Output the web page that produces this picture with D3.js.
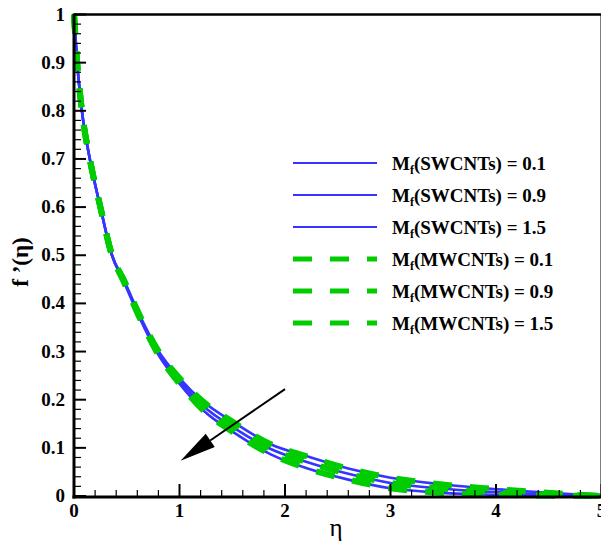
<!DOCTYPE html>
<html>
<head>
<meta charset="utf-8">
<script src="https://cdn.jsdelivr.net/npm/d3@7/dist/d3.min.js"></script>
<style>
body { margin: 0; background: #fff; }
svg { display: block; }
text { font-family: "Liberation Serif", "Times New Roman", Times, "DejaVu Serif", serif; }
</style>
</head>
<body>
<svg id="chart" width="601" height="547"></svg>
<script>
// values
var eta    = [0, 0.03, 0.075, 0.15, 0.25, 0.36, 0.47, 0.63, 0.79, 1.0, 1.23, 1.52, 1.87, 2.2, 2.6, 3.0, 3.45, 3.9, 4.4, 5.0];
var fSW01  = [1, 0.9, 0.8, 0.7, 0.6, 0.5, 0.45, 0.372, 0.305, 0.245, 0.195, 0.152, 0.107, 0.083, 0.057, 0.038, 0.025, 0.016, 0.008, 0];
var fSW09  = [1, 0.9, 0.8, 0.7, 0.6, 0.5, 0.448, 0.369, 0.301, 0.239, 0.186, 0.141, 0.097, 0.071, 0.046, 0.027, 0.016, 0.009, 0.004, 0];
var fSW15  = [1, 0.9, 0.8, 0.7, 0.6, 0.5, 0.446, 0.366, 0.297, 0.233, 0.177, 0.131, 0.086, 0.058, 0.034, 0.016, 0.007, 0.003, 0.001, 0];
var fMW01  = [1, 0.9, 0.8, 0.7, 0.6, 0.5, 0.45, 0.372, 0.305, 0.245, 0.195, 0.152, 0.107, 0.083, 0.057, 0.038, 0.025, 0.016, 0.008, 0];
var fMW09  = [1, 0.9, 0.8, 0.7, 0.6, 0.5, 0.448, 0.369, 0.301, 0.239, 0.186, 0.141, 0.097, 0.071, 0.046, 0.027, 0.016, 0.009, 0.004, 0];
var fMW15  = [1, 0.9, 0.8, 0.7, 0.6, 0.5, 0.446, 0.366, 0.297, 0.233, 0.177, 0.131, 0.086, 0.058, 0.034, 0.016, 0.007, 0.003, 0.001, 0];
var legendNames = ['(SWCNTs) = 0.1', '(SWCNTs) = 0.9', '(SWCNTs) = 1.5',
                   '(MWCNTs) = 0.1', '(MWCNTs) = 0.9', '(MWCNTs) = 1.5'];
var xTicks = [0, 1, 2, 3, 4, 5];
var yTicks = [0, 0.1, 0.2, 0.3, 0.4, 0.5, 0.6, 0.7, 0.8, 0.9, 1];
var arrowPts = [[2.0, 0.222], [1.01, 0.073]];

var series = [
  {name: legendNames[0], f: fSW01, kind: 'sw'},
  {name: legendNames[1], f: fSW09, kind: 'sw'},
  {name: legendNames[2], f: fSW15, kind: 'sw'},
  {name: legendNames[3], f: fMW01, kind: 'mw'},
  {name: legendNames[4], f: fMW09, kind: 'mw'},
  {name: legendNames[5], f: fMW15, kind: 'mw'}
];

var BLUE = '#3535ff', GREEN = '#00cc00';
var FONT = '"Liberation Serif", "Times New Roman", Times, "DejaVu Serif", serif';

var svg = d3.select('#chart');
var x = d3.scaleLinear().domain([0, 5]).range([74, 601.5]);
var y = d3.scaleLinear().domain([0, 1]).range([496, 14.5]);

var line = d3.line()
  .x(function(d) { return x(d[0]); })
  .y(function(d) { return y(d[1]); })
  .curve(d3.curveMonotoneX);

// curves
series.forEach(function(s) {
  var pts = eta.map(function(e, i) { return [e, s.f[i]]; });
  var p = svg.append('path').attr('d', line(pts)).attr('fill', 'none');
  if (s.kind === 'sw') {
    p.attr('stroke', BLUE).attr('stroke-width', 2.6);
  } else {
    p.attr('stroke', GREEN).attr('stroke-width', 6).attr('stroke-dasharray', '19,18');
  }
});

// ticks, inward
var g = svg.append('g').attr('stroke', '#000');
d3.range(0, 1.0001, 0.02).forEach(function(v) {
  var major = Math.abs(v * 10 - Math.round(v * 10)) < 1e-6;
  g.append('line').attr('x1', x(0)).attr('x2', x(0) + (major ? 12 : 7))
    .attr('y1', y(v)).attr('y2', y(v)).attr('stroke-width', major ? 2 : 1.2);
});
d3.range(0, 5.0001, 0.2).forEach(function(v) {
  var major = Math.abs(v - Math.round(v)) < 1e-6;
  g.append('line').attr('y1', y(0)).attr('y2', y(0) - (major ? 12 : 6))
    .attr('x1', x(v)).attr('x2', x(v)).attr('stroke-width', major ? 2 : 1.2);
});

// frame
svg.append('line').attr('x1', x(0)).attr('x2', x(5)).attr('y1', y(1)).attr('y2', y(1)).attr('stroke', '#000').attr('stroke-width', 2.5);
svg.append('line').attr('x1', x(5)).attr('x2', x(5)).attr('y1', y(1)).attr('y2', y(0)).attr('stroke', '#000').attr('stroke-width', 2);
svg.append('line').attr('x1', x(0)).attr('x2', x(0)).attr('y1', y(1) - 1).attr('y2', y(0) + 2.5).attr('stroke', '#000').attr('stroke-width', 3);
svg.append('line').attr('x1', x(0) - 1.5).attr('x2', x(5)).attr('y1', y(0) + 1).attr('y2', y(0) + 1).attr('stroke', '#000').attr('stroke-width', 3);

// tick labels
svg.selectAll('.yl').data(yTicks).enter().append('text')
  .attr('font-family', FONT)
  .attr('x', 65).attr('y', function(d) { return y(d) + 6; })
  .attr('text-anchor', 'end').attr('font-weight', 'bold').attr('font-size', 19)
  .text(function(d) { return d === 0 || d === 1 ? d : d.toFixed(1); });
svg.selectAll('.xl').data(xTicks).enter().append('text')
  .attr('font-family', FONT)
  .attr('x', function(d) { return x(d); }).attr('y', 517)
  .attr('text-anchor', 'middle').attr('font-weight', 'bold').attr('font-size', 19)
  .text(function(d) { return d; });

// axis titles
svg.append('text').attr('transform', 'translate(28,262) rotate(-90)')
  .attr('font-family', FONT)
  .attr('text-anchor', 'middle').attr('font-weight', 'bold').attr('font-size', 23)
  .text('f \u2019(\u03b7)');
svg.append('text').attr('x', 336).attr('y', 536).attr('text-anchor', 'middle')
  .attr('font-family', FONT)
  .attr('font-size', 25).text('\u03b7');

// arrow
var a0 = [x(arrowPts[0][0]), y(arrowPts[0][1])], a1 = [x(arrowPts[1][0]), y(arrowPts[1][1])];
var ang = Math.atan2(a1[1] - a0[1], a1[0] - a0[0]);
var hl = 36, hw = 8;
var bx = a1[0] - hl * Math.cos(ang), by = a1[1] - hl * Math.sin(ang);
svg.append('line').attr('x1', a0[0]).attr('y1', a0[1]).attr('x2', bx).attr('y2', by)
  .attr('stroke', '#000').attr('stroke-width', 2);
svg.append('path').attr('fill', '#000').attr('d', 'M' + a1[0] + ',' + a1[1] +
  'L' + (bx - hw * Math.sin(ang)) + ',' + (by + hw * Math.cos(ang)) +
  'L' + (bx + hw * Math.sin(ang)) + ',' + (by - hw * Math.cos(ang)) + 'Z');

// legend
var leg = svg.append('g');
series.forEach(function(s, i) {
  var ly = 163 + i * 32;
  var l = leg.append('line').attr('x1', 293).attr('x2', 377).attr('y1', ly).attr('y2', ly);
  if (s.kind === 'sw') l.attr('stroke', BLUE).attr('stroke-width', 2);
  else l.attr('stroke', GREEN).attr('stroke-width', 5).attr('stroke-dasharray', '19,18');
  var t = leg.append('text').attr('x', 392).attr('y', ly + 7)
    .attr('font-family', FONT)
    .attr('font-weight', 'bold').attr('font-size', 19);
  t.append('tspan').text('M');
  t.append('tspan').attr('font-size', 12).attr('dy', 4).text('f');
  t.append('tspan').attr('dy', -4).text(s.name);
});
</script>
</body>
</html>
